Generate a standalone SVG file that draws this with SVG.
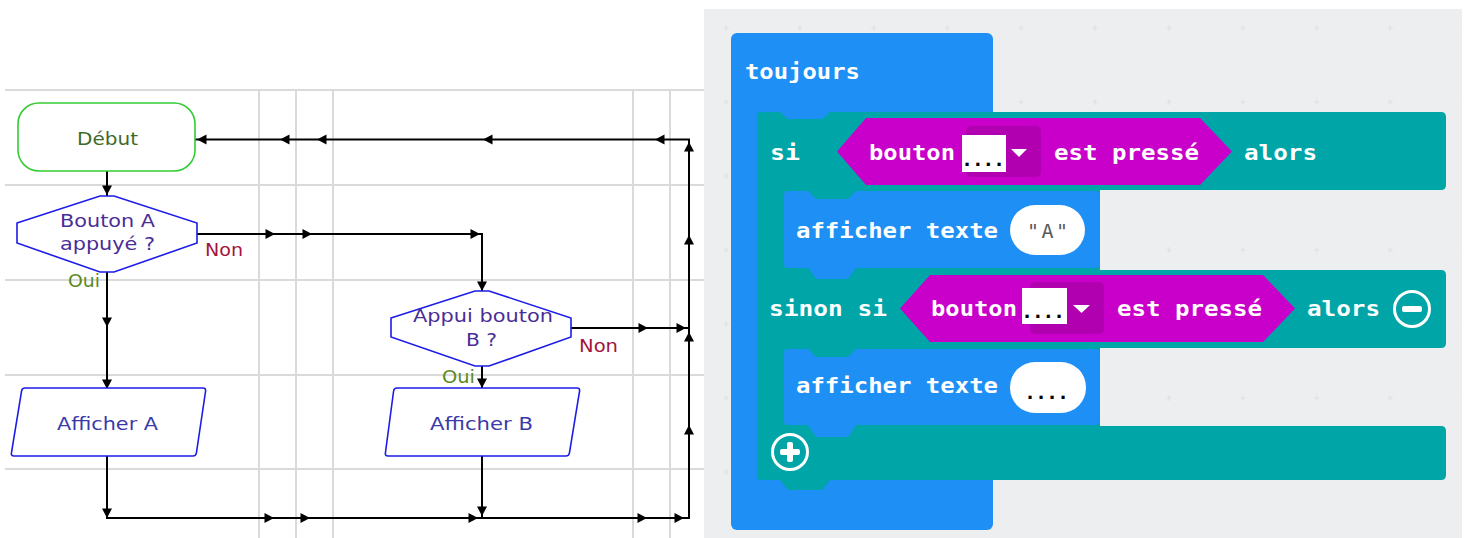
<svg xmlns="http://www.w3.org/2000/svg" xmlns:xlink="http://www.w3.org/1999/xlink" width="1467" height="538" viewBox="0 0 1467 538">
<style>
.grid{stroke:#dadada;stroke-width:2;fill:none}
.fc{font-family:"DejaVu Sans","Liberation Sans",sans-serif;font-size:18.5px;text-anchor:start}
.dec{fill:#fff;stroke:#1c1ce8;stroke-width:1.6}
.bt{font-family:"DejaVu Sans Mono","Liberation Mono",monospace;font-weight:bold;font-size:22px;fill:#fff}
.dots{font-family:"Liberation Sans","DejaVu Sans",sans-serif;font-weight:bold;font-size:22px;fill:#000}
.blue{fill:#1e8ff5}
.teal{fill:#00a5a7}
.mag{fill:#c900c9}
.fld{fill:#b000b0}
</style>
<defs>
<path id="ar" d="M0,0 L-9.5,-5 L-9.5,5 Z"/>
<pattern id="dotgrid" patternUnits="userSpaceOnUse" x="763" y="-9" width="73.8" height="74">
<path d="M33.9 37 H39.9 M36.9 34 V40" stroke="#dfe1e4" stroke-width="1.2"/>
</pattern>
</defs>
<rect width="1467" height="538" fill="#fff"/>
<!-- flowchart grid -->
<g id="grid" class="grid">
<path d="M5 90 H704 M5 185 H704 M5 280 H704 M5 375 H704 M5 469 H704"/>
<path d="M259 90 V538 M296 90 V538 M333 90 V538 M633 90 V538 M670 90 V538"/>
</g>
<!-- connectors -->
<g id="connectors" fill="none" stroke="#000" stroke-width="2">
<path d="M107 171 V196"/>
<path d="M107 272 V388"/>
<path d="M197 234 H482 V291"/>
<path d="M482 366 V388"/>
<path d="M571 328 H689"/>
<path d="M107 456 V518 H689 V139.5 H195"/>
<path d="M482 456 V518"/>
</g>
<g id="arrowheads" fill="#000">
<use xlink:href="#ar" transform="translate(107,195) rotate(90)"/>
<use xlink:href="#ar" transform="translate(107,327) rotate(90)"/>
<use xlink:href="#ar" transform="translate(107,389) rotate(90)"/>
<use xlink:href="#ar" transform="translate(107,518) rotate(90)"/>
<use xlink:href="#ar" transform="translate(482,291) rotate(90)"/>
<use xlink:href="#ar" transform="translate(482,388) rotate(90)"/>
<use xlink:href="#ar" transform="translate(482,516) rotate(90)"/>
<use xlink:href="#ar" transform="translate(275,234)"/>
<use xlink:href="#ar" transform="translate(312,234)"/>
<use xlink:href="#ar" transform="translate(480,234)"/>
<use xlink:href="#ar" transform="translate(648,328)"/>
<use xlink:href="#ar" transform="translate(686,328)"/>
<use xlink:href="#ar" transform="translate(274,518)"/>
<use xlink:href="#ar" transform="translate(310,518)"/>
<use xlink:href="#ar" transform="translate(478,518)"/>
<use xlink:href="#ar" transform="translate(647,518)"/>
<use xlink:href="#ar" transform="translate(684,518)"/>
<use xlink:href="#ar" transform="translate(689,425) rotate(-90)"/>
<use xlink:href="#ar" transform="translate(689,332) rotate(-90)"/>
<use xlink:href="#ar" transform="translate(689,235) rotate(-90)"/>
<use xlink:href="#ar" transform="translate(689,142) rotate(-90)"/>
<use xlink:href="#ar" transform="translate(655,139.5) rotate(180)"/>
<use xlink:href="#ar" transform="translate(483,139.5) rotate(180)"/>
<use xlink:href="#ar" transform="translate(317,139.5) rotate(180)"/>
<use xlink:href="#ar" transform="translate(280,139.5) rotate(180)"/>
<use xlink:href="#ar" transform="translate(197,139.5) rotate(180)"/>
</g>
<!-- flowchart nodes -->
<g id="debut">
<rect x="18" y="103" width="177" height="68" rx="21" fill="#fff" stroke="#33cc33" stroke-width="1.6"/>
<text class="fc" x="77" y="145" textLength="61" lengthAdjust="spacingAndGlyphs" fill="#3d6b2a">Début</text>
</g>
<g id="boutonA">
<polygon class="dec" points="17,223 100,196 114,196 197,223 197,243 114,272 100,272 17,243"/>
<text class="fc" x="60" y="227" textLength="95" lengthAdjust="spacingAndGlyphs" fill="#4a2d96">Bouton A</text>
<text class="fc" x="60" y="250" textLength="95" lengthAdjust="spacingAndGlyphs" fill="#4a2d96">appuyé ?</text>
<text class="fc" x="205" y="256" textLength="38" lengthAdjust="spacingAndGlyphs" fill="#a3143c">Non</text>
<text class="fc" x="68" y="287" textLength="32" lengthAdjust="spacingAndGlyphs" fill="#5c8a1e">Oui</text>
</g>
<g id="boutonB">
<polygon class="dec" points="391,318 475,291 489,291 571,318 571,337 489,366 475,366 391,337"/>
<text class="fc" x="413" y="322" textLength="140" lengthAdjust="spacingAndGlyphs" fill="#4a2d96">Appui bouton</text>
<text class="fc" x="466" y="346" textLength="31" lengthAdjust="spacingAndGlyphs" fill="#4a2d96">B ?</text>
<text class="fc" x="579" y="352" textLength="39" lengthAdjust="spacingAndGlyphs" fill="#a3143c">Non</text>
<text class="fc" x="442" y="383" textLength="33" lengthAdjust="spacingAndGlyphs" fill="#5c8a1e">Oui</text>
</g>
<g id="afficherA">
<path class="dec" d="M25 388 H203 Q206 388 205.6 391 L196.4 453 Q196 456 193 456 H14 Q11 456 11.4 453 L21.6 391 Q22 388 25 388 Z"/>
<text class="fc" x="57" y="430" textLength="101" lengthAdjust="spacingAndGlyphs" fill="#3a3aa8">Afficher A</text>
</g>
<g id="afficherB">
<path class="dec" d="M397 388 H577 Q580 388 579.6 391 L569.4 453 Q569 456 566 456 H388 Q385 456 385.4 453 L393.6 391 Q394 388 397 388 Z"/>
<text class="fc" x="430" y="430" textLength="103" lengthAdjust="spacingAndGlyphs" fill="#3a3aa8">Afficher B</text>
</g>
<!-- blocks panel -->
<rect x="704" y="9" width="758" height="529" fill="#eceef0"/>
<rect x="704" y="9" width="758" height="529" fill="url(#dotgrid)"/>
<g id="toujours">
<rect class="blue" x="731" y="33" width="262" height="497" rx="6"/>
<text class="bt" x="745" y="79" textLength="115" lengthAdjust="spacingAndGlyphs">toujours</text>
</g>
<g id="si">
<path class="teal" d="M762 112 H780 L788 119 H822 L830 112 H1441 Q1446 112 1446 117 V185 Q1446 190 1441 190 H1100 V270 H1441 Q1446 270 1446 275 V343 Q1446 348 1441 348 H1100 V426 H1441 Q1446 426 1446 431 V475 Q1446 480 1441 480 H830 L822 490 H788 L780 480 H762 Q757 480 757 475 V117 Q757 112 762 112 Z"/>
<text class="bt" x="770" y="160" textLength="30" lengthAdjust="spacingAndGlyphs">si</text>
<text class="bt" x="1244" y="160" textLength="73" lengthAdjust="spacingAndGlyphs">alors</text>
<text class="bt" x="769" y="316" textLength="118" lengthAdjust="spacingAndGlyphs">sinon si</text>
<text class="bt" x="1307" y="316" textLength="73" lengthAdjust="spacingAndGlyphs">alors</text>
<circle cx="1412" cy="309" r="17.5" fill="none" stroke="#fff" stroke-width="3"/>
<rect x="1402" y="306" width="20" height="6" rx="2" fill="#fff"/>
<circle cx="790" cy="452" r="17.5" fill="none" stroke="#fff" stroke-width="3"/>
<rect x="780" y="449" width="20" height="6" rx="2" fill="#fff"/>
<rect x="787" y="442" width="6" height="20" rx="2" fill="#fff"/>
</g>
<g id="cond1">
<path class="mag" d="M837 151.5 L866 118 H1200 L1232 151.5 L1200 185 H866 Z"/>
<text class="bt" x="869" y="160" textLength="86" lengthAdjust="spacingAndGlyphs">bouton</text>
<rect class="fld" x="966" y="126" width="75" height="51" rx="5"/>
<rect x="962" y="135" width="44" height="37" fill="#fff"/>
<text class="dots" x="964" y="166" textLength="38" lengthAdjust="spacing">....</text>
<polygon points="1011,149 1027,149 1019,157" fill="#fff"/>
<text class="bt" x="1054" y="160" textLength="145" lengthAdjust="spacingAndGlyphs">est pressé</text>
</g>
<g id="afficherTexteA">
<path class="blue" d="M788 191 H808 L816 199 H848 L856 191 H1096 Q1100 191 1100 195 V264 Q1100 268 1096 268 H856 L848 279 H816 L808 268 H788 Q784 268 784 264 V195 Q784 191 788 191 Z"/>
<text class="bt" x="796" y="238" textLength="202" lengthAdjust="spacingAndGlyphs">afficher texte</text>
<rect x="1010" y="205" width="75" height="50" rx="25" fill="#fff"/>
<text x="1027" y="238" textLength="41" lengthAdjust="spacing" font-family="DejaVu Sans Mono, Liberation Mono, monospace" font-size="20" fill="#5a5a5a">"A"</text>
</g>
<g id="cond2">
<path class="mag" d="M900 308.5 L930 275 H1263 L1295 308.5 L1263 342 H930 Z"/>
<text class="bt" x="931" y="316" textLength="86" lengthAdjust="spacingAndGlyphs">bouton</text>
<rect class="fld" x="1030" y="282" width="74" height="52" rx="5"/>
<rect x="1022" y="288" width="45" height="36" fill="#fff"/>
<text class="dots" x="1024" y="318" textLength="38" lengthAdjust="spacing">....</text>
<polygon points="1073,305 1090,305 1081.5,313" fill="#fff"/>
<text class="bt" x="1117" y="316" textLength="145" lengthAdjust="spacingAndGlyphs">est pressé</text>
</g>
<g id="afficherTexte2">
<path class="blue" d="M788 349 H808 L816 357 H848 L856 349 H1096 Q1100 349 1100 353 V421 Q1100 425 1096 425 H856 L848 437 H816 L808 425 H788 Q784 425 784 421 V353 Q784 349 788 349 Z"/>
<text class="bt" x="796" y="393" textLength="202" lengthAdjust="spacingAndGlyphs">afficher texte</text>
<rect x="1010" y="362" width="76" height="51" rx="25" fill="#fff"/>
<text class="dots" x="1027" y="399" textLength="39" lengthAdjust="spacing">....</text>
</g>
</svg>
